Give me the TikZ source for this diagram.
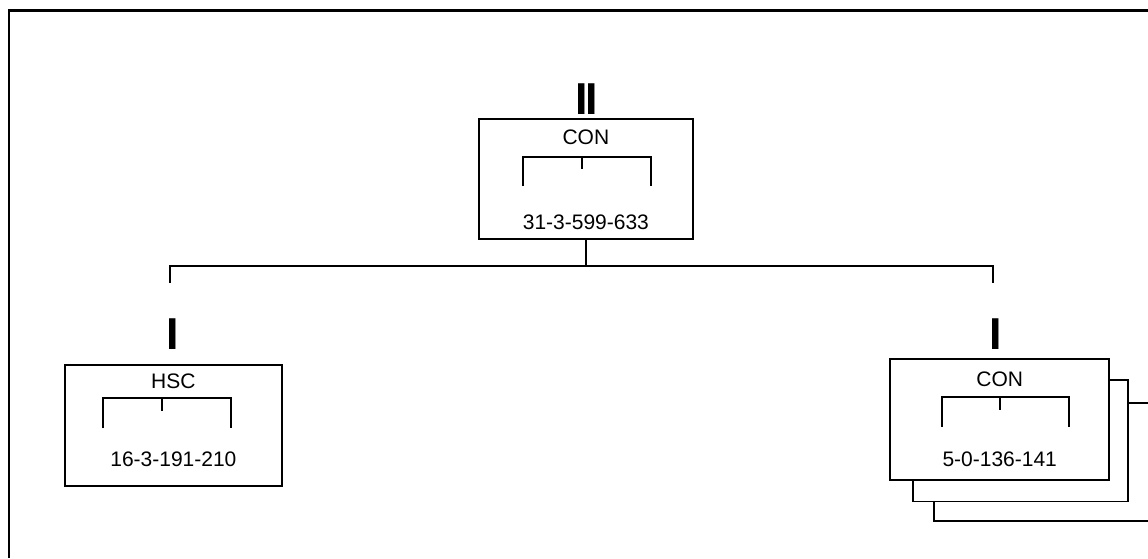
\documentclass[tikz,border=0pt]{standalone}
\usepackage{fontspec}
\setmainfont{Liberation Sans}
\begin{document}
\begin{tikzpicture}[x=1pt,y=-1pt,
  box/.style={draw, line width=1.8pt, fill=white, inner sep=0pt, anchor=north west},
  lbl/.style={anchor=base, inner sep=0pt, font=\fontsize{21}{21}\selectfont},
  roman/.style={anchor=base, inner sep=0pt, font=\fontsize{44.7}{45}\selectfont\bfseries},
  wire/.style={line width=1.8pt},
  brk/.style={line width=1.8pt}]
\useasboundingbox (0,0) rectangle (1148,558);
% frame
\draw[line width=2.7pt] (9,558) -- (9,10.5) -- (1148,10.5);

% top box
\node[box, minimum width=214pt, minimum height=120pt] (top) at (478,118.3) {};
\node[roman] (topnum) at (586.5,114) {I\kern-3ptI};
\node[lbl] (topname) at (top.north |- 0,144.5) {CON};
\node[lbl] (topcode) at (top.north |- 0,229.5) {31-3-599-633};
\draw[brk] (523.3,186) -- (523.3,156.7) -- (651,156.7) -- (651,186);
\draw[brk] (582.3,156.7) -- (582.3,169.3);

% left box
\node[box, minimum width=217pt, minimum height=121pt] (hsc) at (64,364.3) {};
\node[roman] (hscnum) at (172.3,349) {I};
\node[lbl] (hscname) at (hsc.north |- 0,388) {HSC};
\node[lbl] (hsccode) at (hsc.north |- 0,466.5) {16-3-191-210};
\draw[brk] (103.3,428.3) -- (103.3,398.3) -- (230.7,398.3) -- (230.7,428.3);
\draw[brk] (162.3,398.3) -- (162.3,411);

% right stacked boxes
\node[box, minimum width=219pt, minimum height=118pt] (con3) at (933.3,401.7) {};
\node[box, minimum width=215pt, minimum height=121.5pt] (con2) at (912.3,379) {};
\node[box, minimum width=219pt, minimum height=121pt] (con) at (889.3,358.3) {};
\node[roman] (connum) at (996,349) {I};
\node[lbl] (conname) at (con.north |- 0,386) {CON};
\node[lbl] (concode) at (con.north |- 0,466) {5-0-136-141};
\draw[brk] (941.7,426.7) -- (941.7,396.7) -- (1069.3,396.7) -- (1069.3,426.7);
\draw[brk] (1000,396.7) -- (1000,410);

% connectors
\coordinate (busmid) at (top.south |- 0,266);
\coordinate (busl) at (170,266);
\coordinate (busr) at (993.3,266);
\coordinate (dropl) at (170,283);
\coordinate (dropr) at (993.3,283);
\draw[wire] (top.south) -- (busmid);
\draw[wire] (dropl) -- (busl) -- (busr) -- (dropr);
\end{tikzpicture}
\end{document}
